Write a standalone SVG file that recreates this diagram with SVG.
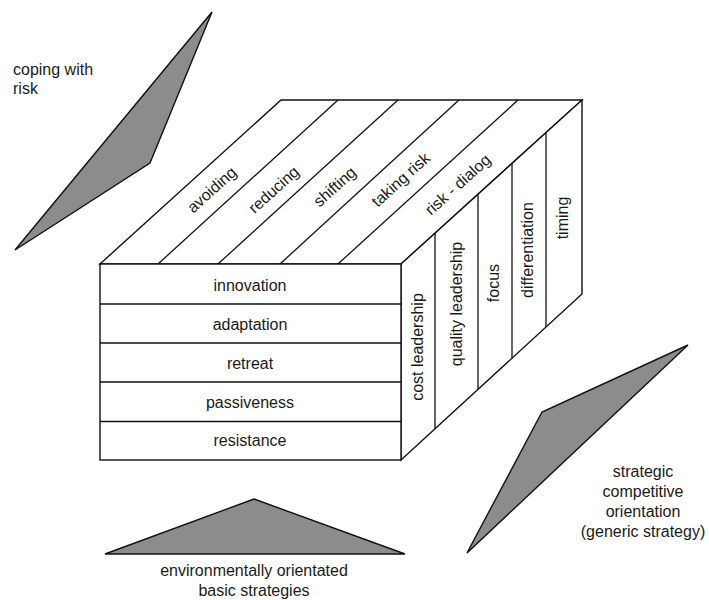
<svg xmlns="http://www.w3.org/2000/svg" width="709" height="600" viewBox="0 0 709 600">
  <style>
    .edge { fill: #ffffff; stroke: #111; stroke-width: 1.4; stroke-linejoin: miter; }
    .line { fill: none; stroke: #111; stroke-width: 1.3; }
    .wedge { fill: #8c8c8c; stroke: #111; stroke-width: 1.4; stroke-linejoin: miter; }
    text { font-family: "Liberation Sans", Arial, sans-serif; font-size: 16px; fill: #1a1a1a; }
    .mid { text-anchor: middle; }
  </style>
  <rect width="709" height="600" fill="#ffffff"/>

  <!-- Axis wedges with their labels -->
  <g id="axis-risk">
    <polygon class="wedge" points="212,12 150,163 15,250"/>
    <text x="13" y="75">coping with</text>
    <text x="13" y="94">risk</text>
  </g>
  <g id="axis-competitive">
    <polygon class="wedge" points="688,345 542,412 467,553"/>
    <text class="mid" x="643" y="477">strategic</text>
    <text class="mid" x="643" y="497">competitive</text>
    <text class="mid" x="643" y="517">orientation</text>
    <text class="mid" x="643" y="537">(generic strategy)</text>
  </g>
  <g id="axis-environment">
    <polygon class="wedge" points="254,499 405,554 105,554"/>
    <text class="mid" x="254" y="576">environmentally orientated</text>
    <text class="mid" x="254" y="596">basic strategies</text>
  </g>

  <!-- Top face: coping with risk -->
  <g id="face-top">
    <polygon class="edge" points="100,264 281,100 582,100 401,264"/>
    <g class="dividers">
      <line class="line" x1="158" y1="264" x2="338" y2="100"/>
      <line class="line" x1="218" y1="264" x2="398" y2="100"/>
      <line class="line" x1="280" y1="264" x2="459" y2="100"/>
      <line class="line" x1="338" y1="264" x2="518" y2="100"/>
    </g>
    <g transform="translate(212,190) rotate(-42)"><text class="mid" x="0" y="5">avoiding</text></g>
    <g transform="translate(274,190) rotate(-42)"><text class="mid" x="0" y="5">reducing</text></g>
    <g transform="translate(335,187) rotate(-42)"><text class="mid" x="0" y="5">shifting</text></g>
    <g transform="translate(401,180) rotate(-42)"><text class="mid" x="0" y="5">taking risk</text></g>
    <g transform="translate(458,185) rotate(-42)"><text class="mid" x="0" y="5">risk - dialog</text></g>
  </g>

  <!-- Right face: generic strategies -->
  <g id="face-right">
    <polygon class="edge" points="401,264 582,100 582,294 401,460"/>
    <g class="dividers">
      <line class="line" x1="435" y1="233" x2="435" y2="429"/>
      <line class="line" x1="478" y1="194" x2="478" y2="389"/>
      <line class="line" x1="512" y1="163" x2="512" y2="358"/>
      <line class="line" x1="546" y1="133" x2="546" y2="327"/>
    </g>
    <g transform="translate(418,347) rotate(-90)"><text class="mid" x="0" y="5">cost leadership</text></g>
    <g transform="translate(457,304) rotate(-90)"><text class="mid" x="0" y="5">quality leadership</text></g>
    <g transform="translate(494,283) rotate(-90)"><text class="mid" x="0" y="5">focus</text></g>
    <g transform="translate(528,250) rotate(-90)"><text class="mid" x="0" y="5">differentiation</text></g>
    <g transform="translate(563,218) rotate(-90)"><text class="mid" x="0" y="5">timing</text></g>
  </g>

  <!-- Front face: environmentally orientated basic strategies -->
  <g id="face-front">
    <rect class="edge" x="100" y="264" width="301" height="196"/>
    <g class="dividers">
      <line class="line" x1="100" y1="304" x2="401" y2="304"/>
      <line class="line" x1="100" y1="343" x2="401" y2="343"/>
      <line class="line" x1="100" y1="382" x2="401" y2="382"/>
      <line class="line" x1="100" y1="421.5" x2="401" y2="421.5"/>
    </g>
    <text class="mid" x="250" y="291">innovation</text>
    <text class="mid" x="250" y="330">adaptation</text>
    <text class="mid" x="250" y="369">retreat</text>
    <text class="mid" x="250" y="408">passiveness</text>
    <text class="mid" x="250" y="446">resistance</text>
  </g>
</svg>
